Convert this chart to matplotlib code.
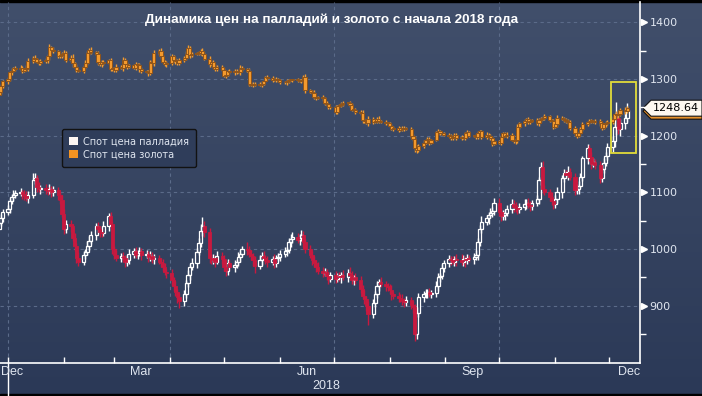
import numpy as np
import pandas as pd
import matplotlib
matplotlib.use('Agg')
import matplotlib.pyplot as plt
import matplotlib.dates as mdates
from matplotlib.colors import LinearSegmentedColormap
from matplotlib.patches import Polygon, Rectangle, Patch
from matplotlib.transforms import Affine2D, blended_transform_factory

# ---- data: daily closes, 22 Dec 2017 .. 11 Dec 2018 (business days) ----
start_date = '2017-12-22'

palladium_close = [
    1020, 1025, 1035, 1046, 1055, 1065,                                   # Dec 17
    1070, 1085, 1092, 1095, 1099, 1100, 1098, 1094, 1090, 1096, 1122, 1125,
    1110, 1106, 1108, 1104, 1102, 1106, 1100, 1104, 1095, 1087, 1062,     # Jan
    1035, 1045, 1040, 1020, 1005, 985, 978, 990, 995, 1005, 1015, 1025,
    1040, 1035, 1030, 1028, 1040, 1058, 1045, 1000,                       # Feb
    990, 985, 988, 984, 978, 980, 992, 996, 990, 993, 996, 990, 992, 986,
    988, 982, 984, 978, 976, 968, 960, 958,                               # Mar
    945, 935, 925, 915, 908, 920, 940, 955, 968, 975, 995, 1010, 1032,
    1040, 1030, 985, 980, 984, 978, 988, 982,                             # Apr
    968, 962, 975, 968, 972, 978, 986, 992, 1000, 998, 992, 988, 980, 970,
    980, 988, 984, 980, 978, 982, 975, 984, 986,                          # May
    992, 996, 998, 1012, 1018, 1022, 1016, 1020, 1024, 1012, 1000, 990,
    980, 975, 968, 962, 958, 960, 952, 948, 954,                          # Jun
    948, 952, 950, 954, 950, 958, 955, 945, 950, 946, 930, 918, 912, 900,
    886, 905, 920, 935, 942, 938, 934, 933,                               # Jul
    928, 920, 918, 914, 912, 908, 906, 910, 902, 898, 850, 888, 915, 920,
    922, 924, 920, 922, 935, 950, 952, 966, 975,                          # Aug
    982, 980, 978, 982, 980, 978, 982, 980, 984, 982, 986, 990, 1012, 1036,
    1048, 1054, 1060, 1064, 1068, 1082,                                   # Sep
    1066, 1058, 1060, 1064, 1070, 1080, 1074, 1072, 1070, 1074, 1080, 1082,
    1078, 1076, 1082, 1088, 1122, 1145, 1106, 1100, 1092, 1084, 1080,     # Oct
    1088, 1100, 1125, 1134, 1130, 1136, 1128, 1104, 1106, 1112, 1128, 1160,
    1178, 1162, 1150, 1154, 1148, 1125, 1142, 1152, 1165, 1180,           # Nov
    1190, 1215, 1232, 1212, 1222, 1232, 1245,                             # Dec
]
palladium_up = [
    5, 6, 8, 5, 7, 6,
    8, 6, 5, 9, 6, 7, 5, 6, 8, 7, 12, 10, 6, 8, 5, 7, 6, 9, 5, 7, 6, 5, 8,
    9, 6, 7, 5, 8, 6, 10, 7, 6, 9, 8, 7, 6, 8, 5, 7, 9, 6, 8, 5,
    6, 8, 5, 7, 6, 9, 8, 6, 7, 5, 8, 6, 7, 5, 9, 6, 8, 5, 7, 6, 8, 5,
    7, 6, 9, 5, 8, 7, 6, 8, 5, 9, 7, 10, 12, 17, 9, 8, 6, 7, 5, 9, 6,
    8, 5, 7, 6, 9, 5, 8, 7, 6, 12, 8, 6, 5, 7, 9, 6, 8, 5, 7, 6, 9, 5, 7,
    6, 8, 5, 7, 9, 8, 6, 7, 10, 8, 5, 7, 6, 8, 5, 9, 6, 7, 5, 8, 6,
    7, 5, 8, 6, 9, 7, 10, 6, 5, 8, 7, 6, 9, 5, 8, 7, 6, 9, 5, 8, 6, 7,
    6, 8, 5, 7, 6, 9, 5, 8, 6, 7, 5, 9, 8, 6, 7, 5, 8, 6, 9, 7, 5, 8, 6,
    7, 5, 8, 6, 9, 12, 7, 5, 8, 6, 7, 9, 8, 6, 10, 7, 5, 8, 6, 9,
    8, 6, 9, 5, 7, 8, 6, 9, 5, 7, 8, 6, 9, 7, 5, 8, 6, 8, 10, 7, 6, 8, 5,
    7, 9, 6, 8, 5, 10, 7, 6, 8, 9, 7, 5, 8, 6, 9, 7, 5, 8, 6, 9, 7, 8,
    9, 12, 28, 10, 8, 14, 12,
]
palladium_down = [
    6, 5, 7, 6, 5, 8,
    5, 7, 6, 8, 5, 6, 9, 7, 5, 8, 6, 7, 9, 5, 8, 6, 7, 5, 8, 6, 9, 7, 6,
    8, 7, 9, 6, 8, 10, 7, 6, 8, 5, 7, 6, 9, 7, 8, 6, 5, 8, 7, 9,
    7, 6, 8, 5, 9, 7, 6, 8, 5, 7, 6, 9, 5, 8, 7, 6, 9, 5, 8, 7, 6, 9,
    8, 9, 7, 10, 12, 8, 6, 7, 9, 5, 8, 6, 7, 9, 8, 10, 7, 6, 9, 5, 8,
    6, 9, 7, 5, 8, 6, 7, 9, 5, 8, 6, 7, 9, 12, 6, 8, 5, 7, 9, 6, 8, 7, 5,
    7, 6, 9, 5, 8, 7, 6, 8, 5, 9, 7, 6, 8, 7, 9, 6, 8, 5, 7, 9, 6,
    8, 6, 7, 9, 5, 8, 7, 6, 9, 7, 8, 6, 9, 10, 20, 8, 7, 6, 9, 5, 8, 7,
    7, 9, 6, 8, 5, 7, 9, 6, 8, 10, 12, 8, 7, 9, 6, 8, 5, 7, 6, 9, 8, 5, 7,
    6, 8, 5, 7, 9, 6, 8, 12, 7, 5, 8, 6, 9, 7, 8, 6, 9, 5, 7, 8,
    7, 9, 6, 8, 5, 7, 9, 6, 8, 7, 5, 9, 6, 8, 7, 6, 8, 9, 7, 5, 8, 6, 9,
    8, 6, 9, 7, 5, 8, 6, 9, 7, 8, 5, 7, 9, 6, 8, 5, 7, 9, 6, 8, 5, 7,
    8, 10, 14, 9, 12, 10, 8,
]

gold_close = [
    1262, 1265, 1272, 1278, 1288, 1296,                                   # Dec 17
    1300, 1312, 1315, 1320, 1318, 1320, 1314, 1318, 1320, 1332, 1338, 1336,
    1330, 1328, 1332, 1334, 1340, 1356, 1352, 1350, 1340, 1342, 1344,     # Jan
    1346, 1334, 1338, 1328, 1322, 1316, 1314, 1322, 1328, 1346, 1352, 1348,
    1345, 1330, 1326, 1330, 1328, 1333, 1318, 1318,                       # Feb
    1316, 1322, 1320, 1334, 1326, 1322, 1324, 1320, 1326, 1324, 1318, 1314,
    1312, 1310, 1330, 1328, 1346, 1350, 1340, 1330, 1326, 1328,           # Mar
    1340, 1334, 1332, 1328, 1334, 1338, 1345, 1354, 1342, 1344, 1346, 1346,
    1350, 1345, 1336, 1326, 1330, 1322, 1318, 1322, 1316,                 # Apr
    1306, 1308, 1314, 1312, 1314, 1312, 1312, 1320, 1318, 1314, 1292, 1290,
    1290, 1292, 1290, 1292, 1296, 1304, 1302, 1298, 1300, 1298, 1298,     # May
    1294, 1294, 1296, 1298, 1298, 1298, 1298, 1296, 1298, 1304, 1280, 1278,
    1276, 1268, 1266, 1268, 1266, 1258, 1256, 1250, 1250,                 # Jun
    1242, 1252, 1254, 1256, 1258, 1258, 1254, 1246, 1246, 1242, 1240, 1228,
    1226, 1222, 1230, 1224, 1226, 1230, 1226, 1224, 1222, 1222,           # Jul
    1218, 1212, 1214, 1210, 1214, 1212, 1214, 1212, 1200, 1194, 1178, 1174,
    1182, 1188, 1192, 1194, 1188, 1192, 1206, 1208, 1204, 1204, 1202,     # Aug
    1200, 1196, 1198, 1202, 1196, 1198, 1196, 1204, 1206, 1200, 1200, 1198,
    1204, 1208, 1198, 1202, 1200, 1196, 1186, 1190,                       # Sep
    1188, 1198, 1204, 1200, 1202, 1192, 1190, 1192, 1215, 1222, 1226, 1230,
    1224, 1226, 1228, 1222, 1228, 1230, 1232, 1234, 1228, 1226, 1216,     # Oct
    1220, 1232, 1230, 1228, 1226, 1224, 1214, 1204, 1200, 1204, 1212, 1220,
    1224, 1226, 1226, 1224, 1226, 1222, 1214, 1220, 1222, 1224,           # Nov
    1230, 1238, 1236, 1238, 1246, 1244, 1248.64,                          # Dec
]
gold_wick = [
    3, 4, 2, 3, 4, 3,
    4, 3, 5, 2, 3, 4, 3, 2, 4, 5, 3, 4, 2, 3, 4, 3, 5, 6, 3, 4, 2, 3, 4,
    5, 3, 4, 6, 3, 4, 2, 3, 5, 4, 3, 4, 2, 5, 3, 4, 3, 2, 4, 3,
    3, 4, 2, 5, 3, 4, 3, 2, 4, 3, 5, 3, 2, 4, 3, 4, 5, 3, 4, 2, 3, 4,
    4, 3, 5, 3, 4, 3, 4, 6, 4, 3, 2, 4, 3, 5, 3, 4, 2, 3, 4, 3, 2,
    3, 4, 2, 3, 4, 3, 2, 4, 3, 2, 5, 3, 4, 2, 3, 4, 3, 2, 4, 3, 2, 3, 4,
    3, 2, 4, 3, 2, 3, 4, 2, 3, 4, 5, 3, 2, 4, 3, 2, 4, 3, 4, 2, 3,
    4, 3, 2, 4, 3, 2, 4, 3, 2, 3, 4, 5, 3, 2, 4, 3, 2, 3, 4, 2, 3, 2,
    3, 2, 4, 3, 2, 3, 4, 2, 4, 3, 6, 5, 3, 4, 2, 3, 4, 3, 2, 4, 3, 2, 3,
    2, 3, 4, 2, 3, 4, 2, 3, 4, 3, 2, 3, 4, 2, 3, 4, 2, 3, 4, 3,
    3, 4, 2, 3, 4, 2, 3, 4, 5, 3, 4, 2, 3, 4, 2, 3, 4, 3, 2, 4, 3, 2, 4,
    3, 4, 2, 3, 4, 3, 4, 3, 4, 2, 3, 4, 2, 3, 4, 2, 3, 4, 3, 2, 4, 3,
    4, 3, 5, 4, 3, 5, 4,
]

title = 'Динамика цен на палладий и золото с начала 2018 года'
legend_labels = ['Спот цена палладия', 'Спот цена золота']
y_ticks = [900, 1000, 1100, 1200, 1300, 1400]
month_labels = [('Dec', '2018-01-03'), ('Mar', '2018-03-16'), ('Jun', '2018-06-16'),
                ('Sep', '2018-09-16'), ('Dec', '2018-12-12')]
year_label = ('2018', '2018-06-27')
highlight = ('2018-12-02', '2018-12-16', 1170, 1295)

# ---- style ----
W, H = 702, 396
BG_TOP, BG_BOT = '#414f6b', '#2b3957'
GRID = '#5b6b89'
TXT = '#dfe5ef'
PD_UP, PD_DN = '#ffffff', '#c8193f'
AU_FACE, AU_EDGE = '#f39a2e', '#8f541a'
sans = ['Liberation Sans', 'DejaVu Sans']

fig = plt.figure(figsize=(W / 100, H / 100), dpi=100)
fig.patch.set_facecolor(BG_BOT)
pix = Affine2D().scale(1 / W, 1 / H) + fig.transFigure

bg = fig.add_axes([0, 0, 1, 1], zorder=0)
bg.imshow(np.linspace(0, 1, 256).reshape(-1, 1), aspect='auto', origin='upper',
          extent=[0, 1, 0, 1], cmap=LinearSegmentedColormap.from_list('bg', [BG_TOP, BG_BOT]))
bg.axis('off')

ax = fig.add_axes([0, 33 / H, 640 / W, 361 / H], zorder=1)
ax.patch.set_alpha(0)

n = min(len(palladium_close), len(palladium_up), len(palladium_down),
        len(gold_close), len(gold_wick))
dates = pd.bdate_range(start_date, periods=n)
x = mdates.date2num(dates)


def ohlc(close, up, down):
    c = np.asarray(close[:n], float)
    o = np.r_[c[0], c[:-1]]
    hi = np.maximum(o, c) + np.asarray(up[:n], float)
    lo = np.minimum(o, c) - np.asarray(down[:n], float)
    return o, hi, lo, c


# palladium candles
o, hi, lo, c = ohlc(palladium_close, palladium_up, palladium_down)
rise = c >= o
top, bot = np.maximum(o, c), np.minimum(o, c)
for m, col in ((rise, PD_UP), (~rise, PD_DN)):
    ax.vlines(x[m], top[m], hi[m], color=col, lw=1.0, zorder=3)
    ax.vlines(x[m], lo[m], bot[m], color=col, lw=1.0, zorder=3)
ax.bar(x[rise], (c - o)[rise], bottom=o[rise], width=1.7, facecolor='none',
       edgecolor=PD_UP, lw=0.9, zorder=3)
ax.bar(x[~rise], (o - c)[~rise], bottom=c[~rise], width=1.7, facecolor=PD_DN,
       edgecolor=PD_DN, lw=0.6, zorder=3)

# gold candles
o, hi, lo, c = ohlc(gold_close, gold_wick, gold_wick)
ax.vlines(x, lo, hi, color=AU_FACE, lw=1.0, zorder=4)
ax.bar(x, np.maximum(np.abs(c - o), 1.5), bottom=np.minimum(o, c), width=1.7,
       facecolor=AU_FACE, edgecolor=AU_EDGE, lw=0.7, zorder=4)
last_gold = gold_close[n - 1]

# axes limits / spines
jan1 = mdates.date2num(pd.Timestamp('2018-01-01'))
ax.set_xlim(jan1 - 4.44, jan1 + 351.1)
ax.set_ylim(799, 1436)
for s in ('left', 'top'):
    ax.spines[s].set_visible(False)
for s in ('right', 'bottom'):
    ax.spines[s].set_color('white')
    ax.spines[s].set_linewidth(1.2)

# grid
for v in y_ticks:
    ax.axhline(v, color=GRID, lw=0.8, ls=(0, (3, 3)), zorder=1)
for d in ['2018-01-01', '2018-04-01', '2018-07-01', '2018-10-01']:
    ax.axvline(mdates.date2num(pd.Timestamp(d)), color=GRID, lw=0.8, ls=(0, (3, 3)), zorder=1)

# y axis on the right
ax.yaxis.tick_right()
ax.set_yticks(y_ticks)
ax.set_yticks([850, 950, 1050, 1150, 1250, 1350], minor=True)
ax.tick_params(axis='y', which='major', length=0, pad=7, labelsize=8, labelcolor=TXT)
ax.tick_params(axis='y', which='minor', length=4, width=1, color='white', direction='out')
ybl = blended_transform_factory(ax.transAxes, ax.transData)
ax.plot([1.0 + 4 / 640] * len(y_ticks), y_ticks, ls='none', marker='>', ms=4.5,
        color='white', transform=ybl, clip_on=False, zorder=5)

# x axis: monthly ticks inside, custom labels
ax.set_xticks(mdates.date2num(pd.date_range('2018-01-01', '2018-12-01', freq='MS')))
ax.tick_params(axis='x', which='major', direction='in', length=4, width=1,
               color='white', labelbottom=False)
xbl = blended_transform_factory(ax.transData, ax.transAxes)
ax.plot([jan1, jan1], [0, -33 / 361], color='white', lw=1, transform=xbl, clip_on=False)
for lab, d in month_labels:
    ax.text(mdates.date2num(pd.Timestamp(d)), -9 / 361, lab, transform=xbl, ha='center',
            va='center', color=TXT, fontsize=9, family=sans)
ax.text(mdates.date2num(pd.Timestamp(year_label[1])), -23 / 361, year_label[0],
        transform=xbl, ha='center', va='center', color=TXT, fontsize=9, family=sans)

# highlight box
h0, h1 = mdates.date2num(pd.Timestamp(highlight[0])), mdates.date2num(pd.Timestamp(highlight[1]))
ax.add_patch(Rectangle((h0, highlight[2]), h1 - h0, highlight[3] - highlight[2], fill=False,
                       edgecolor='#e2dc3a', lw=1.3, zorder=6))

# title
fig.text(332 / W, 1 - 20 / H, title, ha='center', va='center', color='white',
         fontsize=9.7, fontweight='bold', family=sans)

# legend
handles = [Patch(facecolor='#fdf6f2'), Patch(facecolor='#f39322')]
leg = fig.legend(handles, legend_labels, loc='upper left',
                 bbox_to_anchor=(62 / W, 1 - 129 / H), frameon=True, fancybox=True,
                 facecolor='#2f3d5a', edgecolor='#121212', fontsize=7.0, labelcolor=TXT,
                 handlelength=0.9, handleheight=0.9, handletextpad=0.5, borderpad=0.75,
                 labelspacing=0.32, borderaxespad=0)
leg.get_frame().set_alpha(1)
leg.get_frame().set_linewidth(1)

# last price tag
yd = fig.transFigure.inverted().transform(ax.transData.transform((x[-1], last_gold)))[1] * H
shape = lambda dy: [(643, yd - dy), (651, yd + 8 - dy), (702, yd + 8 - dy),
                    (702, yd - 8 - dy), (651, yd - 8 - dy)]
fig.add_artist(Polygon(shape(3), closed=True, facecolor='#e8922c', edgecolor='#111111',
                       lw=0.8, transform=pix))
fig.add_artist(Polygon(shape(0), closed=True, facecolor='#fdf8f0', edgecolor='#111111',
                       lw=0.8, transform=pix))
fig.text(676 / W, yd / H, f'{last_gold:.2f}', ha='center', va='center', color='black',
         fontsize=8)

# thin dark frame lines top and bottom
fig.add_artist(Rectangle((0, H - 2), W, 2, color='black', transform=pix))
fig.add_artist(Rectangle((0, 0), W, 2, color='black', transform=pix))

fig.savefig('out.png', dpi=100, facecolor=fig.get_facecolor())
